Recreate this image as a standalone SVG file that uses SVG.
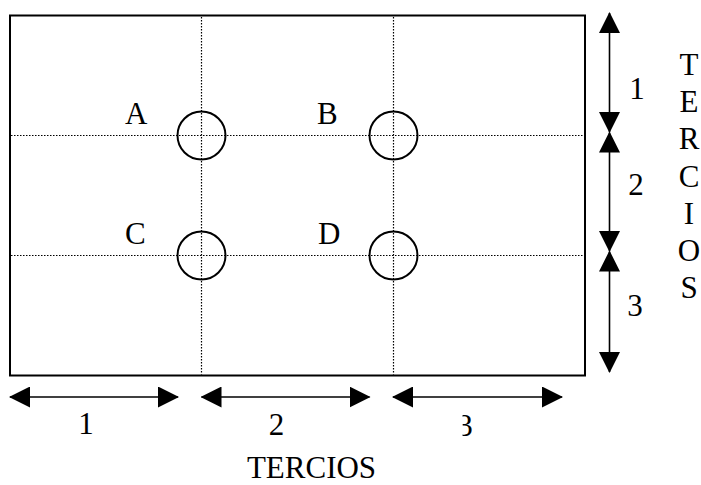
<svg xmlns="http://www.w3.org/2000/svg" width="701" height="485" viewBox="0 0 701 485">
  <style>
    .lbl { font-family: "Liberation Serif", "Times New Roman", serif; font-size: 31px; fill: #000; }
    .dot { stroke: #000; stroke-width: 1.2; stroke-dasharray: 1.5 1.5; fill: none; }
    .circ { fill: none; stroke: #000; stroke-width: 2; }
    .arr { stroke: #000; stroke-width: 1.6; fill: none; marker-start: url(#ah); marker-end: url(#ah); }
  </style>
  <defs>
    <marker id="ah" markerUnits="userSpaceOnUse" markerWidth="21" markerHeight="21" refX="20" refY="10.5" orient="auto-start-reverse" viewBox="0 0 21 21">
      <path d="M0,0 L21,10.5 L0,21 z" fill="#000"/>
    </marker>
    <clipPath id="clip3">
      <rect x="462.5" y="400" width="30" height="50"/>
    </clipPath>
  </defs>
  <rect width="701" height="485" fill="#fff"/>

  <g id="frame">
    <rect x="10" y="15.5" width="575" height="360" fill="none" stroke="#000" stroke-width="2"/>
    <line class="dot" x1="11" y1="135.5" x2="584" y2="135.5"/>
    <line class="dot" x1="11" y1="255.5" x2="584" y2="255.5"/>
    <line class="dot" x1="201.5" y1="17" x2="201.5" y2="374.5"/>
    <line class="dot" x1="393.5" y1="17" x2="393.5" y2="374.5"/>
  </g>

  <g id="node-A">
    <circle class="circ" cx="201.5" cy="135.5" r="24"/>
    <text class="lbl" x="125" y="124">A</text>
  </g>
  <g id="node-B">
    <circle class="circ" cx="393.5" cy="135.5" r="24"/>
    <text class="lbl" x="317" y="124">B</text>
  </g>
  <g id="node-C">
    <circle class="circ" cx="201.5" cy="255.5" r="24"/>
    <text class="lbl" x="125" y="244">C</text>
  </g>
  <g id="node-D">
    <circle class="circ" cx="393.5" cy="255.5" r="24"/>
    <text class="lbl" x="318" y="244">D</text>
  </g>

  <g id="connectors">
    <line class="arr" x1="609.5" y1="13" x2="609.5" y2="132"/>
    <line class="arr" x1="609.5" y1="132.5" x2="609.5" y2="251"/>
    <line class="arr" x1="609.5" y1="251.5" x2="609.5" y2="372"/>
    <line class="arr" x1="10" y1="397" x2="178" y2="397"/>
    <line class="arr" x1="201.5" y1="397" x2="369.5" y2="397"/>
    <line class="arr" x1="393" y1="397" x2="562" y2="397"/>
  </g>

  <g id="right-labels">
    <text class="lbl" x="637" y="99" text-anchor="middle">1</text>
    <text class="lbl" x="636" y="195" text-anchor="middle">2</text>
    <text class="lbl" x="635" y="316" text-anchor="middle">3</text>
    <g id="tercios-vertical" text-anchor="middle">
      <text class="lbl" x="689" y="75">T</text>
      <text class="lbl" x="689" y="112">E</text>
      <text class="lbl" x="689" y="149">R</text>
      <text class="lbl" x="689" y="186.5">C</text>
      <text class="lbl" x="689" y="223.5">I</text>
      <text class="lbl" x="689" y="261">O</text>
      <text class="lbl" x="689" y="298">S</text>
    </g>
  </g>

  <g id="bottom-labels">
    <text class="lbl" x="86" y="434" text-anchor="middle">1</text>
    <text class="lbl" x="276.5" y="435" text-anchor="middle">2</text>
    <text class="lbl" x="465" y="436" text-anchor="middle" clip-path="url(#clip3)">3</text>
    <text class="lbl" x="311.5" y="478" text-anchor="middle">TERCIOS</text>
  </g>
</svg>
